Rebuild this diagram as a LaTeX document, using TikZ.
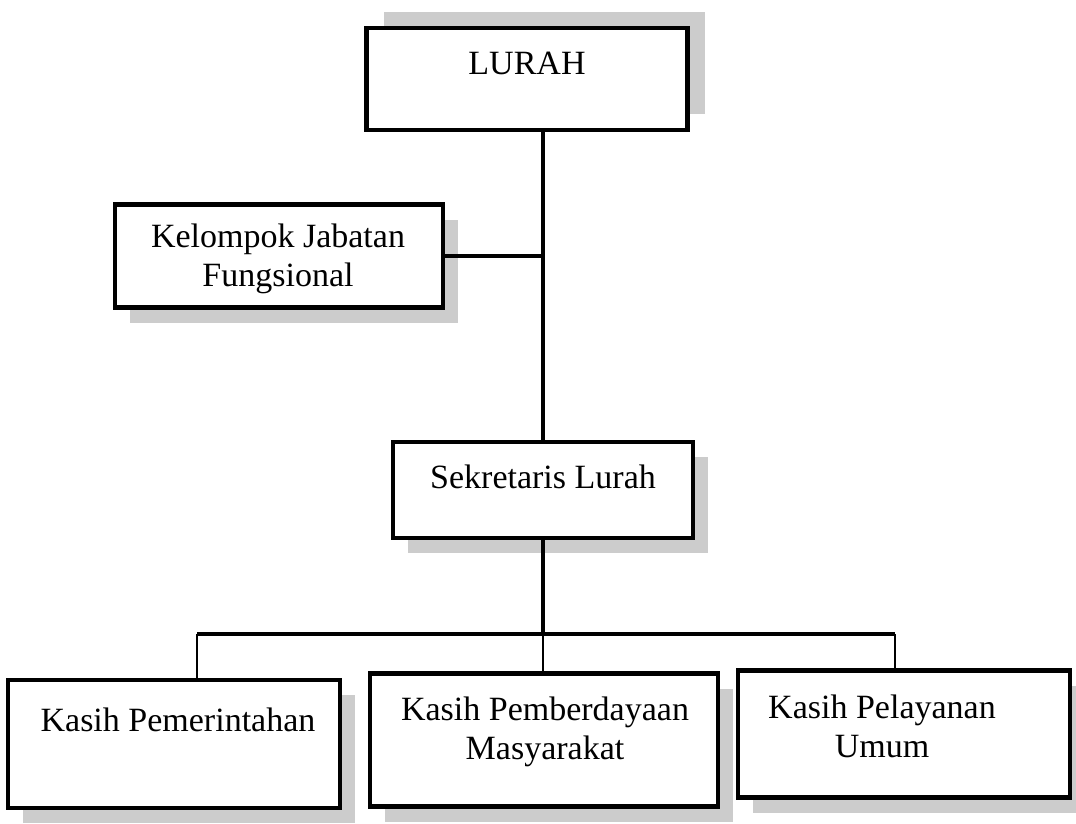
\documentclass[tikz,border=0pt]{standalone}
\usepackage{fontspec}
\setmainfont{Liberation Serif}
\usetikzlibrary{shadows}

\begin{document}
\begin{tikzpicture}[x=1pt,y=-1pt,-]
                \tikzstyle{kotak}=[rectangle,draw=black,fill=white,line width=4.5pt,inner sep=0pt]
                \tikzstyle{bayang}=[drop shadow={shadow xshift=15pt,shadow yshift=-15pt,fill=gray!40,opacity=1}]
                \tikzstyle{bayang atas}=[drop shadow={shadow xshift=17pt,shadow yshift=16pt,fill=gray!40,opacity=1}]
                \tikzstyle{teks}=[align=center,inner sep=0pt,font=\fontsize{34}{39}\selectfont]
                \tikzstyle{garis}=[line width=4pt]
                \useasboundingbox (0,0) rectangle (1076,824);

                \node[kotak,bayang atas,minimum width=321pt,minimum height=102pt] (lurah) at (527,79) {};
                \node[kotak,bayang,minimum width=328pt,minimum height=103pt] (kelompok) at (279,256) {};
                \node[kotak,bayang,minimum width=300pt,minimum height=96pt] (sekretaris) at (543,490) {};
                \foreach \num/\x/\y/\w/\h in {1/174/744/332/128, 2/544/740/348/133, 3/904/734/332/127}
                        \node[kotak,bayang,minimum width=\w pt,minimum height=\h pt] (kasih-\num) at (\x,\y) {};

                \node[teks] (lurah-t) at (527,63) {LURAH};
                \node[teks] (kelompok-t) at (278,259) {Kelompok Jabatan\\Fungsional};
                \node[teks] (sekretaris-t) at (543,477) {Sekretaris Lurah};
                \node[teks] (kasih-1-t) at (178,720) {Kasih Pemerintahan};
                \node[teks] (kasih-2-t) at (545,732) {Kasih Pemberdayaan\\Masyarakat};
                \node[teks] (kasih-3-t) at (882,726) {Kasih Pelayanan\\Umum};

                \coordinate (cabang-1) at (197,634);
                \coordinate (cabang-2) at (543,634);
                \coordinate (cabang-3) at (895,634);

                \draw[garis] (sekretaris.north |- lurah.south) -- (sekretaris.north);
                \draw[garis] (kelompok.east) -- (kelompok.east -| sekretaris.north);
                \draw[garis] (sekretaris.south) -- (cabang-2);
                \draw[garis] (cabang-1) -- (cabang-3);
                \foreach \num in {1,2,3}
                        \draw[line width=2pt] (cabang-\num) -- (cabang-\num |- kasih-\num.north);
\end{tikzpicture}
\end{document}
